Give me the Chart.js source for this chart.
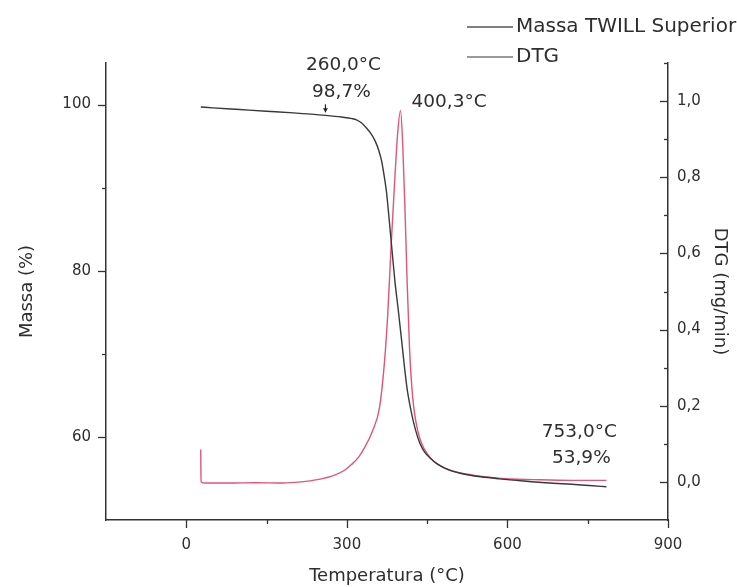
<!DOCTYPE html>
<html>
<head>
<meta charset="utf-8">
<script src="https://cdn.jsdelivr.net/npm/chart.js@4.4.1/dist/chart.umd.min.js"></script>
<style>
html,body{margin:0;padding:0;background:#ffffff;}
#wrap{width:737px;height:587px;}
</style>
</head>
<body>
<div id="wrap"><canvas id="c" width="737" height="587"></canvas></div>
<script>
// ---- data ----
const seriesNames = ['Massa TWILL Superior', 'DTG'];

const massTemp = [27, 50, 100, 150, 200, 260, 290, 310, 318, 327, 337, 345, 353, 360, 365, 370, 374, 379, 385, 390, 396, 402, 408, 413, 421, 428, 436, 445, 455, 470, 492, 520, 550, 586, 630, 680, 720, 753, 785];
const massValues = [99.7, 99.6, 99.4, 99.2, 99.0, 98.7, 98.5, 98.3, 98.15, 97.8, 97.15, 96.5, 95.6, 94.4, 93.2, 91.3, 89.5, 86.2, 82.0, 78.6, 75.3, 71.8, 68.2, 65.6, 62.8, 60.9, 59.3, 58.2, 57.5, 56.7, 56.0, 55.5, 55.2, 54.95, 54.7, 54.45, 54.3, 54.15, 54.0];

const dtgTemp = [27, 27.6, 35, 80, 130, 180, 214, 245, 277, 295, 308, 322, 333, 348, 361, 370, 376.4, 382.6, 388.8, 395, 400.3, 404.5, 408.8, 412.5, 417, 423, 432.5, 451, 482, 526, 588, 650, 720, 785];
const dtgValues = [0.085, 0.0, -0.003, -0.003, -0.002, -0.003, 0.0, 0.006, 0.018, 0.03, 0.045, 0.065, 0.09, 0.134, 0.195, 0.31, 0.44, 0.617, 0.776, 0.917, 0.975, 0.881, 0.706, 0.53, 0.354, 0.222, 0.134, 0.072, 0.037, 0.02, 0.009, 0.006, 0.004, 0.004];

const xTickLabels = [0, 300, 600, 900];
const massTickLabels = [60, 80, 100];
const dtgTickLabels = [0.0, 0.2, 0.4, 0.6, 0.8, 1.0];

// annotations: text lines and the data point they describe
const noteTexts = [['260,0°C', '98,7%'], ['400,3°C'], ['753,0°C', '53,9%']];
const noteTemps = [260, 400.3, 753];
const noteValues = [98.7, 0.975, 53.9];
const noteAxes = ['y', 'y2', 'y'];

// ---- styling ----
const FONT = '"DejaVu Sans", Verdana, sans-serif';
const AX = '#333333';
const TXT = '#2e2e2e';
const MASS_COLOR = '#383838';
const DTG_COLOR = '#e0557a';

const isLabel = (arr, v) => arr.some(a => Math.abs(a - v) < 1e-6);
const comma = v => v.toFixed(1).replace('.', ',');

const tickPlugin = {
  id: 'tickMarks',
  afterDraw(chart) {
    const ctx = chart.ctx;
    const {x, y, y2} = chart.scales;
    ctx.save();
    ctx.strokeStyle = AX;
    ctx.lineWidth = 1.3;
    const seg = (a, b, c, d) => { ctx.beginPath(); ctx.moveTo(a, b); ctx.lineTo(c, d); ctx.stroke(); };
    x.ticks.forEach(t => {
      if (t.value <= x.min) return;
      const px = Math.round(x.getPixelForValue(t.value)) + 0.5;
      const len = isLabel(xTickLabels, t.value) ? 8 : 4;
      seg(px, x.top, px, x.top + len);
    });
    y.ticks.forEach(t => {
      if (t.value <= y.min) return;
      const py = Math.round(y.getPixelForValue(t.value)) + 0.5;
      const len = isLabel(massTickLabels, t.value) ? 8 : 4;
      seg(y.right - len, py, y.right, py);
    });
    y2.ticks.forEach(t => {
      if (t.value <= y2.min + 1e-6) return;
      const py = Math.round(y2.getPixelForValue(t.value)) + 0.5;
      const len = isLabel(dtgTickLabels, t.value) ? 8 : 4;
      seg(y2.left - len, py, y2.left, py);
    });
    ctx.restore();
  }
};

const notePlugin = {
  id: 'notes',
  afterDraw(chart) {
    const ctx = chart.ctx;
    const xs = chart.scales.x;
    ctx.save();
    // legend
    ctx.font = '20px ' + FONT;
    ctx.textBaseline = 'middle';
    ctx.textAlign = 'left';
    chart.data.datasets.slice(0, 2).forEach((ds, i) => {
      const ly = 27 + i * 30;
      ctx.strokeStyle = i === 0 ? '#555555' : '#777777';
      ctx.lineWidth = 1.3;
      ctx.beginPath(); ctx.moveTo(467, ly); ctx.lineTo(513, ly); ctx.stroke();
      ctx.fillStyle = TXT;
      ctx.fillText(ds.label, 516, ly);
    });
    // annotations
    ctx.font = '18.5px ' + FONT;
    ctx.textAlign = 'center';
    noteTexts.forEach((lines, i) => {
      const px = xs.getPixelForValue(noteTemps[i]);
      const py = chart.scales[noteAxes[i]].getPixelForValue(noteValues[i]);
      ctx.fillStyle = TXT;
      if (i === 0) {
        ctx.fillText(lines[0], px + 18, py - 50);
        ctx.fillText(lines[1], px + 16, py - 23);
        // small marker arrow above the curve
        ctx.strokeStyle = '#222';
        ctx.lineWidth = 1.2;
        ctx.beginPath(); ctx.moveTo(px, py - 11); ctx.lineTo(px, py - 3); ctx.stroke();
        ctx.beginPath(); ctx.moveTo(px - 2.5, py - 7); ctx.lineTo(px + 2.5, py - 7); ctx.lineTo(px, py - 3); ctx.closePath(); ctx.fillStyle = '#222'; ctx.fill();
      } else if (i === 1) {
        ctx.textAlign = 'left';
        ctx.fillText(lines[0], px + 11, py - 8);
        ctx.textAlign = 'center';
      } else {
        ctx.fillText(lines[0], px - 10, py - 55);
        ctx.fillText(lines[1], px - 8, py - 29);
      }
    });
    ctx.restore();
  }
};

new Chart(document.getElementById('c'), {
  type: 'line',
  data: {
    datasets: [
      {
        label: seriesNames[0],
        data: massTemp.map((t, i) => ({x: t, y: massValues[i]})),
        yAxisID: 'y',
        borderColor: MASS_COLOR,
        borderWidth: 1.4,
        pointRadius: 0,
        cubicInterpolationMode: 'monotone',
        fill: false
      },
      {
        label: seriesNames[1],
        data: dtgTemp.map((t, i) => ({x: t, y: dtgValues[i]})),
        yAxisID: 'y2',
        borderColor: DTG_COLOR,
        borderWidth: 1.4,
        pointRadius: 0,
        cubicInterpolationMode: 'monotone',
        fill: false
      }
    ]
  },
  options: {
    responsive: false,
    animation: false,
    devicePixelRatio: 1,
    layout: {padding: {top: 63, left: 0, right: 0, bottom: 0}},
    plugins: {legend: {display: false}, tooltip: {enabled: false}},
    scales: {
      x: {
        type: 'linear',
        min: -150, max: 900,
        afterFit: s => { s.height = 67; },
        grid: {display: false, drawTicks: false},
        border: {display: true, color: AX, width: 1.5},
        ticks: {
          stepSize: 150, autoSkip: false, maxRotation: 0, padding: 16,
          color: TXT, font: {family: FONT, size: 15},
          callback: v => isLabel(xTickLabels, v) ? String(v) : ''
        },
        title: {display: true, text: 'Temperatura (°C)', color: TXT, font: {family: FONT, size: 18}, padding: {top: 0, bottom: 0}}
      },
      y: {
        type: 'linear', position: 'left',
        min: 50, max: 105,
        afterFit: s => { s.width = 106; },
        grid: {display: false, drawTicks: false},
        border: {display: true, color: AX, width: 1.5},
        ticks: {
          stepSize: 10, includeBounds: false, autoSkip: false, padding: 15,
          color: TXT, font: {family: FONT, size: 15},
          callback: v => isLabel(massTickLabels, v) ? String(v) : ''
        },
        title: {display: true, text: 'Massa (%)', color: TXT, font: {family: FONT, size: 18}, padding: {top: 17, bottom: 0}}
      },
      y2: {
        type: 'linear', position: 'right',
        min: -0.1, max: 1.1,
        afterFit: s => { s.width = 69; },
        grid: {display: false, drawTicks: false},
        border: {display: true, color: AX, width: 1.5},
        ticks: {
          stepSize: 0.1, autoSkip: false, padding: 9,
          color: TXT, font: {family: FONT, size: 15},
          callback: v => isLabel(dtgTickLabels, v) ? comma(v) : ''
        },
        title: {display: true, text: 'DTG (mg/min)', color: TXT, font: {family: FONT, size: 18}, padding: {top: 7, bottom: 0}}
      }
    }
  },
  plugins: [tickPlugin, notePlugin]
});
</script>
</body>
</html>
